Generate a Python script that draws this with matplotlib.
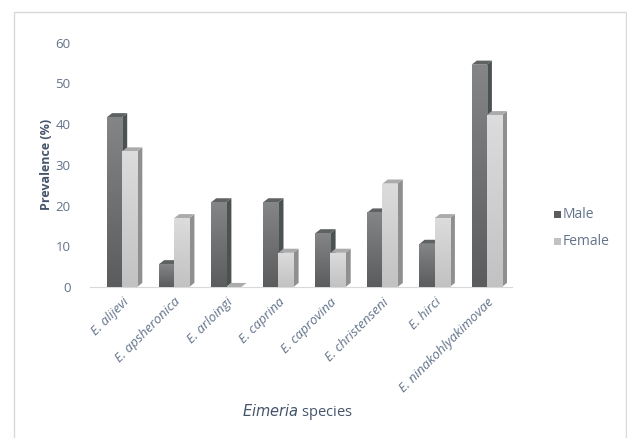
import matplotlib.pyplot as plt
import numpy as np
from matplotlib.patches import Polygon, Rectangle

species = ['E. alijevi', 'E. apsheronica', 'E. arloingi', 'E. caprina',
           'E. caprovina', 'E. christenseni', 'E. hirci', 'E. ninakohlyakimovae']
male = [41.7, 5.6, 20.8, 20.8, 13.2, 18.3, 10.6, 54.6]
female = [33.3, 16.9, 0.0, 8.4, 8.4, 25.4, 16.9, 42.2]

BAR_W = 0.29
DX, DY = 0.1, 1.0  # depth of the pseudo-3d columns

# (top of front, bottom of front, side, cap)
MALE_COLORS = ('#838586', '#5a5c5d', '#4b5250', '#5e6262')
FEMALE_COLORS = ('#dcdcdc', '#c2c2c2', '#8f8f8f', '#ababab')
TEXT_COLOR = '#62738a'
TITLE_COLOR = '#44546a'


def draw_column(ax, x0, h, colors):
    """Front face with vertical gradient plus a side and a cap polygon."""
    top_c, bot_c, side_c, cap_c = colors
    side = Polygon([(x0 + BAR_W, 0), (x0 + BAR_W + DX, DY),
                    (x0 + BAR_W + DX, h + DY), (x0 + BAR_W, h)],
                   closed=True, facecolor=side_c, edgecolor='none', zorder=2)
    cap = Polygon([(x0, h), (x0 + DX, h + DY), (x0 + BAR_W + DX, h + DY),
                   (x0 + BAR_W, h)],
                  closed=True, facecolor=cap_c, edgecolor='none', zorder=2)
    ax.add_patch(side)
    ax.add_patch(cap)
    if h <= 0:
        return
    c1 = np.array(plt.matplotlib.colors.to_rgb(top_c))
    c2 = np.array(plt.matplotlib.colors.to_rgb(bot_c))
    t = np.linspace(0, 1, 64)[:, None]
    grad = (c1 * (1 - t) + c2 * t)[:, None, :]
    face = Rectangle((x0, 0), BAR_W, h, facecolor='none', edgecolor='none')
    ax.add_patch(face)
    im = ax.imshow(grad, extent=(x0, x0 + BAR_W, 0, h), origin='upper',
                   aspect='auto', interpolation='bilinear', zorder=3)
    im.set_clip_path(face)


fig = plt.figure(figsize=(6.27, 4.38), dpi=100)
plt.rcParams['font.family'] = ['Open Sans', 'DejaVu Sans']

# light frame around the whole chart
fig.patches.append(Rectangle((13.5 / 627, -0.01), (625.5 - 13.5) / 627, (438 - 11.5) / 438 + 0.01,
                             transform=fig.transFigure, facecolor='none',
                             edgecolor='#d9d9d9', linewidth=1.0))

ax = fig.add_axes([90 / 627, (438 - 287) / 438, 422 / 627, (287 - 42.7) / 438])

x = np.arange(len(species))
for i in range(len(species)):
    draw_column(ax, x[i] - BAR_W, male[i], MALE_COLORS)
    draw_column(ax, x[i], female[i], FEMALE_COLORS)

ax.set_xlim(-0.614, 7.486)
ax.set_ylim(0, 60)
ax.set_yticks(range(0, 61, 10))
ax.tick_params(axis='y', length=0, pad=14, labelsize=9.5, labelcolor=TEXT_COLOR)
ax.set_xticks(x)
ax.set_xticklabels(species, rotation=45, ha='right', rotation_mode='anchor',
                   fontsize=9.5, color=TEXT_COLOR, style='italic')
ax.tick_params(axis='x', length=0, pad=6)

for s in ['top', 'right', 'left']:
    ax.spines[s].set_visible(False)
ax.spines['bottom'].set_color('#d9d9d9')

ax.set_ylabel('Prevalence (%)', fontsize=9, fontweight='bold', color=TITLE_COLOR)
ax.yaxis.set_label_coords(-0.088, 0.5)
fig.text(297 / 627, 1 - 412 / 438, r'$\it{Eimeria}$ species', fontsize=10.5,
         color=TITLE_COLOR, ha='center', va='center')

# legend
for ly, name, col in [(214, 'Male', MALE_COLORS[1]), (241, 'Female', FEMALE_COLORS[1])]:
    fig.patches.append(Rectangle((554 / 627, 1 - (ly + 3.5) / 438), 7 / 627, 7 / 438,
                                 transform=fig.transFigure, facecolor=col,
                                 edgecolor='none'))
    fig.text(563 / 627, 1 - ly / 438, name, fontsize=10, color=TEXT_COLOR,
             ha='left', va='center')

fig.savefig('out.png', dpi=100)
